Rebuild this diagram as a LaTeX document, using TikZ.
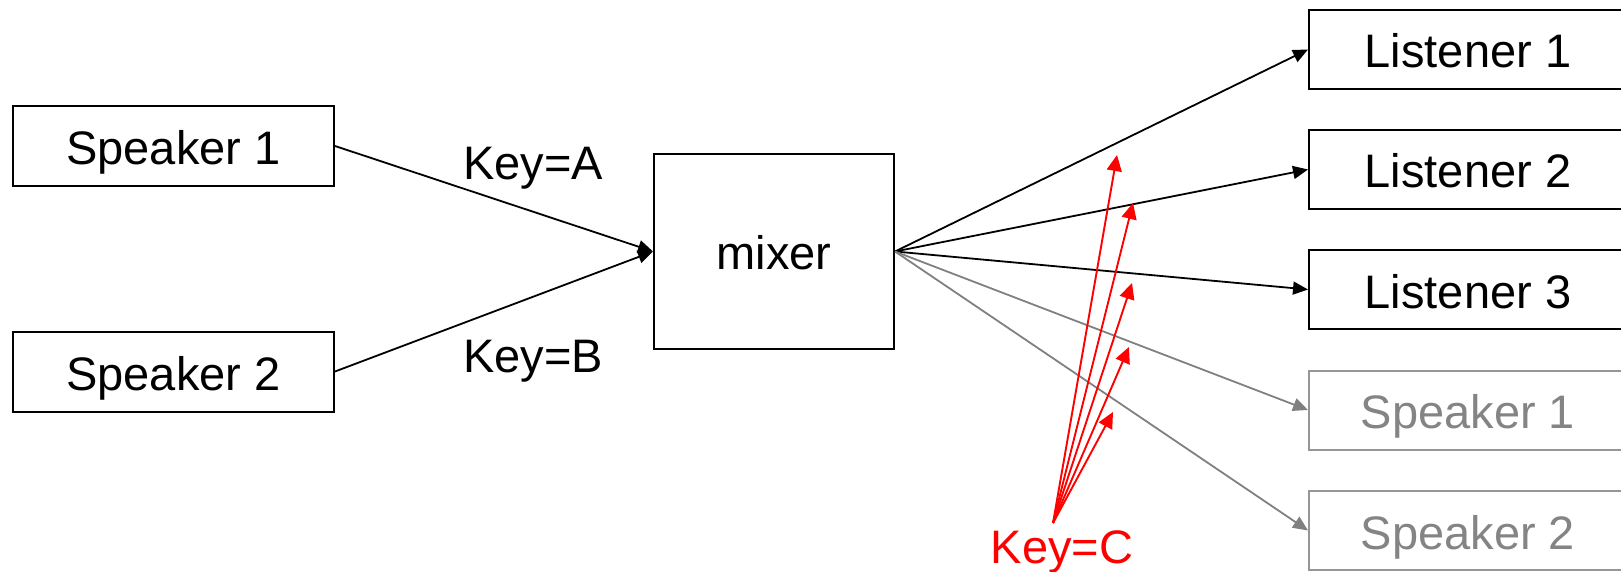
\documentclass[tikz,border=0pt]{standalone}
\usepackage{fontspec}
\setmainfont{Liberation Sans}
\usetikzlibrary{arrows.meta}
\definecolor{echoline}{RGB}{128,128,128}
\definecolor{echotext}{RGB}{132,132,132}
\definecolor{echoframe}{RGB}{150,150,150}
\begin{document}
\begin{tikzpicture}[x=0.5pt,y=-0.5pt,
  labelfont/.style={font=\fontsize{23.5}{28}\selectfont},
  box/.style={draw, line width=1pt, inner sep=0pt, labelfont,
    text height=18.5pt, text depth=0pt},
  sidebox/.style={box, minimum width=160.5pt, minimum height=40pt},
  outbox/.style={box, minimum width=159pt, minimum height=39.5pt},
  echobox/.style={outbox, draw=echoframe, text=echotext},
  link/.style={line width=0.9pt, -{Triangle[length=7.5pt,width=6.5pt]}},
  echolink/.style={link, draw=echoline, -{Triangle[length=7.5pt,width=6.5pt,fill=echoline]}},
  keyarrow/.style={red, line width=0.95pt, -{Triangle[length=8pt,width=7.5pt]}},
  keylabel/.style={labelfont, inner sep=0pt, anchor=base},
]
\useasboundingbox (0,0) rectangle (1621,572);

% senders
\node[sidebox] (spk1) at (173.5,146) {Speaker 1};
\node[sidebox] (spk2) at (173.5,371.5) {Speaker 2};

% mixer
\node[box, minimum width=120pt, minimum height=97.5pt] (mixer) at (774,251.5) {mixer};

% receivers
\node[outbox] (lis1) at (1468,49.5) {Listener 1};
\node[outbox] (lis2) at (1468,169.5) {Listener 2};
\node[outbox] (lis3) at (1468,289.5) {Listener 3};
\node[echobox] (echo1) at (1468,410) {Speaker 1};
\node[echobox] (echo2) at (1468,530.5) {Speaker 2};

% inbound streams
\draw[link] (spk1.east) -- (mixer.west);
\draw[link] (spk2.east) -- (mixer.west);
\node[keylabel] (keyA) at (533,180) {Key=A};
\node[keylabel] (keyB) at (533,372) {Key=B};

% outbound streams
\draw[link] (mixer.east) -- (lis1.west);
\draw[link] (mixer.east) -- (lis2.west);
\draw[link] (mixer.east) -- (lis3.west);
\draw[echolink] (mixer.east) -- (echo1.west);
\draw[echolink] (mixer.east) -- (echo2.west);

% common key for all outbound streams
\coordinate (kc) at (1053,523);
\coordinate (kt1) at (1117,155);
\coordinate (kt2) at (1133,203);
\coordinate (kt3) at (1132,283);
\coordinate (kt4) at (1129,347);
\coordinate (kt5) at (1113,412);
\foreach \t in {kt1,kt2,kt3,kt4,kt5}
  \draw[keyarrow] (kc) -- (\t);
\node[keylabel, text=red] (keyC) at (1062,563) {Key=C};
\end{tikzpicture}
\end{document}
